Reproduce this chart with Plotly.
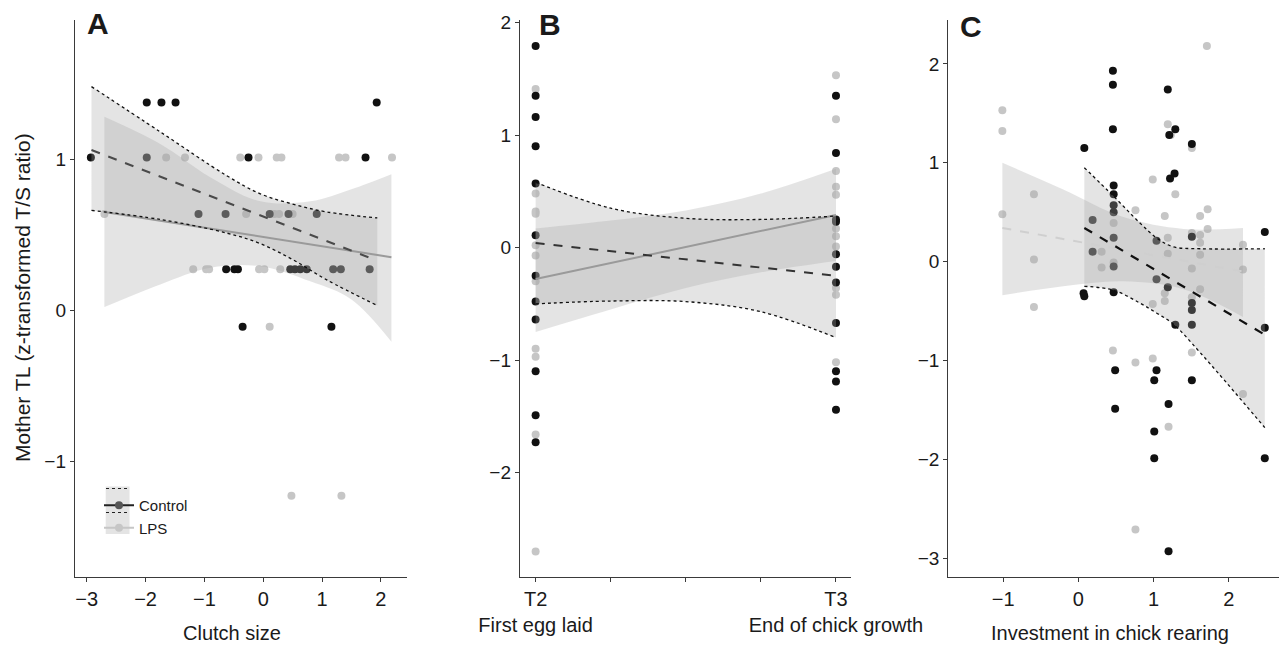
import plotly.graph_objects as go

W, H = 1281, 647
FONT = "Liberation Sans, Arial, sans-serif"

# ---------------- Panel A : clutch size ----------------
a_ctrl_x = [-1.98, -1.73, -1.49, 1.93, -2.93, -1.98, -0.25, 1.74, -1.10, -0.64, 0.11, 0.43, 0.91,
            -0.63, -0.49, -0.43, 0.46, 0.54, 0.63, 0.74, 1.19, 1.32, 1.81, -0.35, 1.16]
a_ctrl_y = [1.375, 1.375, 1.375, 1.375, 1.01, 1.01, 1.01, 1.01, 0.636, 0.636, 0.636, 0.636, 0.636,
            0.27, 0.27, 0.27, 0.27, 0.27, 0.27, 0.27, 0.27, 0.27, 0.27, -0.11, -0.11]
a_lps_x = [-1.65, -1.33, -0.39, -0.08, 0.23, 0.31, 1.29, 1.40, 2.19, -2.70, -0.29, 0.19, 0.27, 0.50,
           -1.19, -0.97, -0.92, -0.07, 0.02, 0.29, 0.11, 0.48, 1.33]
a_lps_y = [1.01, 1.01, 1.01, 1.01, 1.01, 1.01, 1.01, 1.01, 1.01, 0.636, 0.636, 0.636, 0.636, 0.636,
           0.27, 0.27, 0.27, 0.27, 0.27, 0.27, -0.11, -1.23, -1.23]
a_ctrl_fit_x = [-2.92, 1.92]
a_ctrl_fit_y = [1.06, 0.33]
a_ctrl_ci_x = [-2.92, -1.75, -0.62, -0.05, 0.52, 1.08, 1.94]
a_ctrl_ci_hi = [1.48, 1.18, 0.89, 0.77, 0.70, 0.65, 0.61]
a_ctrl_ci_lo = [0.66, 0.60, 0.51, 0.44, 0.33, 0.20, 0.03]
a_lps_fit_x = [-2.70, 2.18]
a_lps_fit_y = [0.65, 0.35]
a_lps_ci_x = [-2.70, -1.75, -0.90, -0.05, 0.80, 1.50, 2.18]
a_lps_ci_hi = [1.28, 1.10, 0.88, 0.72, 0.72, 0.80, 0.90]
a_lps_ci_lo = [0.02, 0.17, 0.28, 0.29, 0.19, 0.07, -0.21]

# ---------------- Panel B : sampling time ----------------
b_times = ["T2", "T3"]
b_time_labels = ["T2<br>First egg laid", "T3<br>End of chick growth"]
b_ctrl_t = ["T2"] * 12 + ["T3"] * 11
b_ctrl_y = [1.79, 1.35, 1.16, 0.90, 0.57, 0.11, -0.25, -0.48, -0.64, -1.10, -1.49, -1.73,
            1.35, 0.84, 0.25, 0.23, -0.06, -0.17, -0.31, -0.67, -1.10, -1.19, -1.44]
b_lps_t = ["T2"] * 11 + ["T3"] * 11
b_lps_y = [1.41, 0.48, 0.32, 0.30, 0.02, -0.07, -0.30, -0.90, -0.97, -1.66, -2.70,
           1.53, 1.14, 0.68, 0.54, 0.47, 0.17, 0.10, 0.01, -0.36, -0.42, -1.02]
b_fit_x = [0.0, 1.0]
b_ctrl_fit_y = [0.04, -0.25]
b_lps_fit_y = [-0.28, 0.29]
b_ci_x = [0.0, 0.25, 0.5, 0.75, 1.0]
b_ctrl_ci_hi = [0.58, 0.35, 0.26, 0.25, 0.28]
b_ctrl_ci_lo = [-0.50, -0.475, -0.48, -0.57, -0.80]
b_lps_ci_hi = [0.17, 0.24, 0.33, 0.48, 0.70]
b_lps_ci_lo = [-0.75, -0.55, -0.36, -0.22, -0.12]

# ---------------- Panel C : investment in chick rearing ----------------
c_ctrl_x = [0.08, 0.07, 0.08, 0.46, 0.46, 0.46, 0.47, 0.47, 0.47, 0.47, 0.47, 0.47, 0.47, 0.49, 0.49,
            0.19, 0.19, 1.04, 1.04, 1.01, 1.04, 1.01, 1.01, 1.19, 1.21, 1.29, 1.28, 1.22, 1.19, 1.29,
            1.20, 1.20, 1.51, 1.51, 1.51, 1.51, 1.51, 1.51, 2.48, 2.48, 2.48]
c_ctrl_y = [1.15, -0.32, -0.35, 1.93, 1.79, 1.34, 0.77, 0.68, 0.57, 0.50, 0.24, -0.05, -0.31, -1.10, -1.49,
            0.42, 0.10, 0.21, -0.18, -1.20, -1.10, -1.72, -1.99, 1.74, 1.28, 1.34, 0.89, 0.84, -0.26, -0.64,
            -1.44, -2.93, 1.19, 0.25, -0.42, -0.49, -0.64, -1.20, 0.30, -0.67, -1.99]
c_lps_x = [-1.01, -1.01, -1.01, -0.59, -0.59, -0.59, 0.31, 0.31, 0.47, 0.47, 0.46, 0.76, 0.76, 0.76,
           0.99, 0.99, 0.99, 1.15, 1.15, 1.15, 1.19, 1.19, 1.19, 1.23, 1.29, 1.20, 1.51, 1.51, 1.51,
           1.51, 1.51, 1.62, 1.62, 1.62, 1.62, 1.62, 1.72, 1.72, 1.71, 2.19, 2.19, 2.19]
c_lps_y = [1.53, 1.32, 0.48, 0.68, 0.02, -0.46, 0.10, -0.06, 0.39, -0.01, -0.90, 0.52, -1.02, -2.71,
           0.83, -0.43, -0.98, 0.46, -0.32, -0.40, 0.24, 0.08, 1.39, 1.28, 0.68, -1.67, 1.15, 0.29, -0.07,
           -0.36, -0.92, 0.46, 0.27, 0.19, 0.07, -0.28, 0.53, 0.33, 2.18, 0.17, -0.08, -1.34]
c_ctrl_fit_x = [0.08, 2.48]
c_ctrl_fit_y = [0.34, -0.74]
c_ctrl_ci_x = [0.08, 0.47, 0.82, 1.04, 1.26, 1.62, 2.48]
c_ctrl_ci_hi = [0.95, 0.66, 0.39, 0.24, 0.15, 0.13, 0.13]
c_ctrl_ci_lo = [-0.25, -0.29, -0.42, -0.52, -0.63, -0.92, -1.68]
c_lps_fit_x = [-1.01, 2.19]
c_lps_fit_y = [0.34, -0.10]
c_lps_ci_x = [-1.01, -0.2, 0.6, 1.4, 2.19]
c_lps_ci_hi = [1.00, 0.73, 0.45, 0.33, 0.34]
c_lps_ci_lo = [-0.34, -0.25, -0.20, -0.28, -0.56]

# ---------------- styling ----------------
CTRL_COL = "#111111"
LPS_COL = "#c6c6c6"
RIBBON = "rgba(165,165,165,0.30)"
AXCOL = "#3a3a3a"
MSIZE = 8

fig = go.Figure()


def add_points(x, y, color, ax):
    fig.add_trace(go.Scatter(x=x, y=y, mode="markers", xaxis="x" + ax, yaxis="y" + ax,
                             marker=dict(color=color, size=MSIZE, line=dict(width=0)),
                             showlegend=False, hoverinfo="skip"))


def add_ribbon(x, lo, hi, ax):
    fig.add_trace(go.Scatter(x=x, y=lo, mode="lines", xaxis="x" + ax, yaxis="y" + ax,
                             line=dict(width=0, shape="spline", color="rgba(0,0,0,0)"),
                             showlegend=False, hoverinfo="skip"))
    fig.add_trace(go.Scatter(x=x, y=hi, mode="lines", xaxis="x" + ax, yaxis="y" + ax,
                             fill="tonexty", fillcolor=RIBBON,
                             line=dict(width=0, shape="spline", color="rgba(0,0,0,0)"),
                             showlegend=False, hoverinfo="skip"))


def add_line(x, y, ax, color, width, dash, shape="linear"):
    fig.add_trace(go.Scatter(x=x, y=y, mode="lines", xaxis="x" + ax, yaxis="y" + ax,
                             line=dict(color=color, width=width, dash=dash, shape=shape),
                             showlegend=False, hoverinfo="skip"))


b_pos = {t: i for i, t in enumerate(b_times)}
b_ctrl_x = [b_pos[t] for t in b_ctrl_t]
b_lps_x = [b_pos[t] for t in b_lps_t]

# points first (ribbons drawn on top, as in the original)
add_points(a_lps_x, a_lps_y, LPS_COL, "")
add_points(a_ctrl_x, a_ctrl_y, CTRL_COL, "")
add_points(b_lps_x, b_lps_y, LPS_COL, "2")
add_points(b_ctrl_x, b_ctrl_y, CTRL_COL, "2")
add_points(c_lps_x, c_lps_y, LPS_COL, "3")
add_points(c_ctrl_x, c_ctrl_y, CTRL_COL, "3")

# ribbons
add_ribbon(a_ctrl_ci_x, a_ctrl_ci_lo, a_ctrl_ci_hi, "")
add_ribbon(a_lps_ci_x, a_lps_ci_lo, a_lps_ci_hi, "")
add_ribbon(b_ci_x, b_ctrl_ci_lo, b_ctrl_ci_hi, "2")
add_ribbon(b_ci_x, b_lps_ci_lo, b_lps_ci_hi, "2")
add_ribbon(c_ctrl_ci_x, c_ctrl_ci_lo, c_ctrl_ci_hi, "3")
add_ribbon(c_lps_ci_x, c_lps_ci_lo, c_lps_ci_hi, "3")

# fitted lines and CI borders
add_line(a_lps_fit_x, a_lps_fit_y, "", "#9a9a9a", 2, "solid")
add_line(a_ctrl_fit_x, a_ctrl_fit_y, "", "#4a4a4a", 2, "dash")
add_line(a_ctrl_ci_x, a_ctrl_ci_hi, "", "#111111", 1.3, "dot", "spline")
add_line(a_ctrl_ci_x, a_ctrl_ci_lo, "", "#111111", 1.3, "dot", "spline")

add_line(b_fit_x, b_lps_fit_y, "2", "#9a9a9a", 2, "solid")
add_line(b_fit_x, b_ctrl_fit_y, "2", "#333333", 2, "dash")
add_line(b_ci_x, b_ctrl_ci_hi, "2", "#111111", 1.3, "dot", "spline")
add_line(b_ci_x, b_ctrl_ci_lo, "2", "#111111", 1.3, "dot", "spline")

add_line(c_lps_fit_x, c_lps_fit_y, "3", "#cfcfcf", 2, "dash")
add_line(c_ctrl_fit_x, c_ctrl_fit_y, "3", "#111111", 2.2, "dash")
add_line(c_ctrl_ci_x, c_ctrl_ci_hi, "3", "#111111", 1.3, "dot", "spline")
add_line(c_ctrl_ci_x, c_ctrl_ci_lo, "3", "#111111", 1.3, "dot", "spline")

# legend entries
fig.add_trace(go.Scatter(x=[None], y=[None], mode="lines+markers", name="Control",
                         line=dict(color="#222222", width=2), marker=dict(color="#555555", size=8)))
fig.add_trace(go.Scatter(x=[None], y=[None], mode="lines+markers", name="LPS",
                         line=dict(color=LPS_COL, width=2), marker=dict(color=LPS_COL, size=8)))

ax_common = dict(showline=True, linecolor=AXCOL, linewidth=1.4, ticks="outside", ticklen=4,
                 tickcolor=AXCOL, tickwidth=1, showgrid=False, zeroline=False, automargin=False)
xfont = dict(family=FONT, size=20, color="#1a1a1a")
yfont = dict(family=FONT, size=19, color="#1a1a1a")
ydom = [1 - 577 / H, 1 - 20 / H]

fig.update_layout(
    width=W, height=H, margin=dict(l=0, r=0, t=0, b=0),
    paper_bgcolor="white", plot_bgcolor="white",
    font=dict(family=FONT),
    xaxis=dict(domain=[75 / W, 406.7 / W], range=[-3.2, 2.44], tickvals=[-3, -2, -1, 0, 1, 2],
               anchor="y", tickfont=xfont, **ax_common),
    yaxis=dict(domain=ydom, range=[-1.768, 1.921], tickvals=[-1, 0, 1], anchor="x",
               tickfont=yfont, **ax_common),
    xaxis2=dict(domain=[520 / W, 850.7 / W], range=[-0.052, 1.049],
                tickvals=[0, 0.25, 0.5, 0.75, 1],
                ticktext=[b_time_labels[0], "", "", "", b_time_labels[1]],
                anchor="y2", tickfont=xfont, **ax_common),
    yaxis2=dict(domain=ydom, range=[-2.927, 2.022], tickvals=[-2, -1, 0, 1, 2], anchor="x2",
                tickfont=yfont, **ax_common),
    xaxis3=dict(domain=[948.3 / W, 1279.3 / W], range=[-1.729, 2.673], tickvals=[-1, 0, 1, 2],
                anchor="y3", tickfont=xfont, **ax_common),
    yaxis3=dict(domain=ydom, range=[-3.191, 2.444], tickvals=[-3, -2, -1, 0, 1, 2], anchor="x3",
                tickfont=yfont, **ax_common),
    showlegend=True,
    legend=dict(x=99 / W, y=1 - 489 / H, xanchor="left", yanchor="top", traceorder="normal",
                bgcolor="rgba(0,0,0,0)", font=dict(family=FONT, size=15, color="#1a1a1a"),
                tracegroupgap=0, itemclick=False),
)

# legend key background and CI dotted keys
fig.add_shape(type="rect", xref="paper", yref="paper", x0=105.7 / W, x1=129.5 / W,
              y0=1 - 534 / H, y1=1 - 486.5 / H, fillcolor="#e4e4e4", line=dict(width=0), layer="below")
for yy in (488.5, 512.5):
    fig.add_shape(type="line", xref="paper", yref="paper", x0=106 / W, x1=129 / W,
                  y0=1 - yy / H, y1=1 - yy / H, line=dict(color="#222222", width=1.2, dash="dot"))

annots = [
    dict(text="<b>A</b>", x=98 / W, y=1 - 24 / H, size=30),
    dict(text="<b>B</b>", x=550 / W, y=1 - 25 / H, size=30),
    dict(text="<b>C</b>", x=971 / W, y=1 - 26 / H, size=30),
    dict(text="Clutch size", x=232 / W, y=1 - 633 / H, size=20),
    dict(text="Investment in chick rearing", x=1110 / W, y=1 - 633 / H, size=20),
]
for a in annots:
    fig.add_annotation(text=a["text"], x=a["x"], y=a["y"], xref="paper", yref="paper",
                       showarrow=False, xanchor="center", yanchor="middle",
                       font=dict(family=FONT, size=a["size"], color="#1a1a1a"))
fig.add_annotation(text="Mother TL (z-transformed T/S ratio)", x=22 / W, y=1 - 298 / H,
                   xref="paper", yref="paper", showarrow=False, textangle=-90,
                   xanchor="center", yanchor="middle",
                   font=dict(family=FONT, size=21, color="#1a1a1a"))

fig.write_html("out.html", config={"displayModeBar": False},
               post_script="document.body.style.margin='0px';document.body.style.overflow='hidden';")
